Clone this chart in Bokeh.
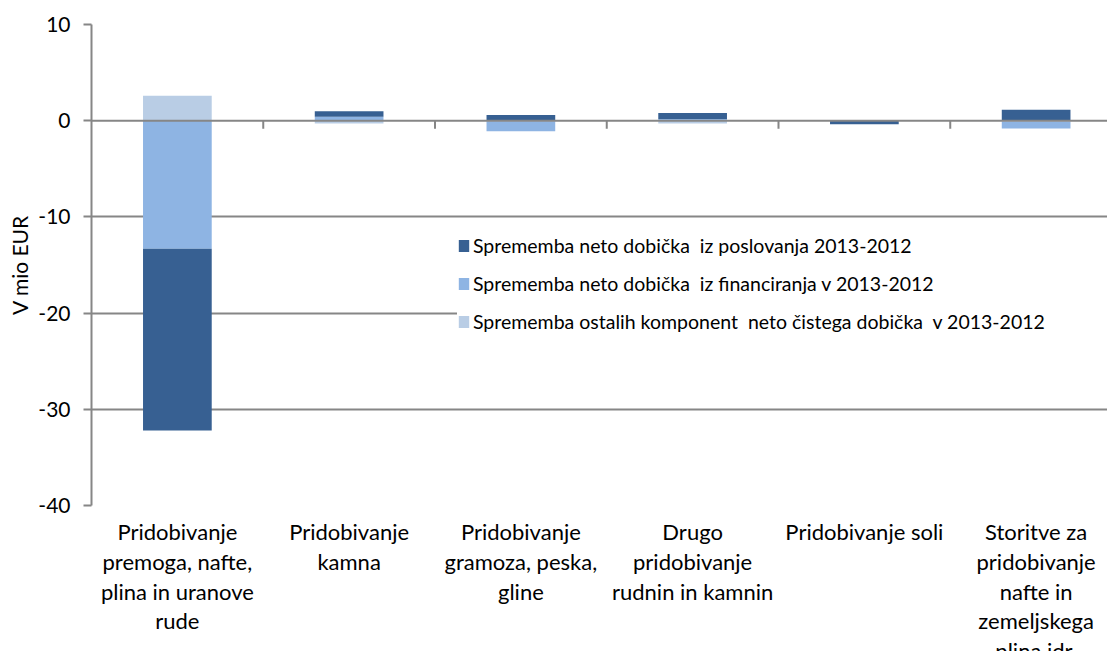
import numpy as np
from bokeh.plotting import figure
from bokeh.layouts import column
from bokeh.models import (ColumnDataSource, Span, FixedTicker,
                          Range1d, Legend, LegendItem)
from bokeh.core.properties import value
from bokeh.embed import file_html
from bokeh.resources import INLINE

# ---- data ----
categories = [
    "Pridobivanje\npremoga, nafte,\nplina in uranove\nrude",
    "Pridobivanje\nkamna",
    "Pridobivanje\ngramoza, peska,\ngline",
    "Drugo\npridobivanje\nrudnin in kamnin",
    "Pridobivanje soli",
    "Storitve za\npridobivanje\nnafte in\nzemeljskega\nplina idr.",
]
series_names = [
    "Sprememba neto dobička  iz poslovanja 2013-2012",
    "Sprememba neto dobička  iz financiranja v 2013-2012",
    "Sprememba ostalih komponent  neto čistega dobička  v 2013-2012",
]
operating = [-18.9, 0.55, 0.60, 0.62, -0.33, 1.14]
financing = [-13.3, 0.42, -1.05, 0.18, -0.03, -0.70]
other = [2.6, -0.30, -0.05, -0.30, 0.0, -0.10]
y_ticks = [10, 0, -10, -20, -30, -40]
y_tick_labels = ["10", "0", "-10", "-20", "-30", "-40"]

colors = ["#376092", "#8EB4E3", "#B9CDE5"]
FONT = "Lato"
LEG_FS = "19.5px"
AX_FS = "21px"
CAT_FS = "22px"
TXT = "#000000"
GRID = "#868686"

n = len(categories)
x = [float(i) + 0.5 for i in range(n)]

# stacking order nearest the axis: other, financing, operating
stack_order = [other, financing, operating]
pos = np.zeros(n)
neg = np.zeros(n)
bottoms, tops = [], []
for vals in stack_order:
    v = np.array(vals, dtype=float)
    b = np.where(v >= 0, pos, neg)
    t = b + v
    pos = np.where(v >= 0, t, pos)
    neg = np.where(v < 0, t, neg)
    bottoms.append(b)
    tops.append(t)

W = 1107
frame_left, frame_top, frame_bottom = 91, 24, 505
bottom_pad = 13
H_MAIN = frame_bottom + bottom_pad
H_LAB = 651 - H_MAIN
cat_px = 171.75
frame_w = W - frame_left
px_per_unit = (frame_bottom - frame_top) / 50.0

xr = Range1d(0, frame_w / cat_px)
p = figure(width=W, height=H_MAIN, output_backend="svg", toolbar_location=None,
           x_range=xr, y_range=Range1d(-40, 10), x_axis_type=None,
           min_border_left=frame_left, min_border_top=frame_top,
           min_border_right=0, min_border_bottom=bottom_pad,
           background_fill_color="white", border_fill_color="white")
p.outline_line_color = None

# horizontal grid
p.ygrid.ticker = FixedTicker(ticks=[10, -10, -20, -30])
p.ygrid.grid_line_color = GRID
p.ygrid.grid_line_width = 2

# y axis
p.yaxis.ticker = FixedTicker(ticks=y_ticks)
p.yaxis.major_label_overrides = {t: s for t, s in zip(y_ticks, y_tick_labels)}
p.yaxis.axis_line_color = GRID
p.yaxis.axis_line_width = 2
p.yaxis.major_tick_line_color = GRID
p.yaxis.major_tick_line_width = 2
p.yaxis.major_tick_out = 8
p.yaxis.major_tick_in = 0
p.yaxis.minor_tick_line_color = None
p.yaxis.major_label_standoff = 13
p.yaxis.major_label_text_font = FONT
p.yaxis.major_label_text_font_size = AX_FS
p.yaxis.major_label_text_color = TXT
p.yaxis.axis_label = "V mio EUR"
p.yaxis.axis_label_text_font = FONT
p.yaxis.axis_label_text_font_size = AX_FS
p.yaxis.axis_label_text_font_style = "normal"
p.yaxis.axis_label_text_color = TXT
p.yaxis.axis_label_standoff = 3

# bars
renderers = []
for i, (b, t) in enumerate(zip(bottoms, tops)):
    src = ColumnDataSource(dict(x=x, bottom=b, top=t))
    r = p.vbar(x="x", width=0.4, bottom="bottom", top="top", source=src,
               fill_color=colors[2 - i], line_color=None)
    renderers.append(r)
# renderers: [other, financing, operating]

# zero axis line and category tick marks
p.add_layout(Span(location=0, dimension="width", line_color=GRID, line_width=2))
bx = np.arange(1, n)
p.segment(x0=bx, x1=bx, y0=np.zeros(len(bx)), y1=np.full(len(bx), -8 / px_per_unit),
          line_color=GRID, line_width=2)

# legend
legend = Legend(items=[
    LegendItem(label=series_names[0], renderers=[renderers[2]]),
    LegendItem(label=series_names[1], renderers=[renderers[1]]),
    LegendItem(label=series_names[2], renderers=[renderers[0]]),
], location=(366, 172))
legend.label_text_font = FONT
legend.label_text_font_size = LEG_FS
legend.label_text_color = TXT
legend.glyph_width = 13
legend.glyph_height = 15
legend.label_height = 20
legend.spacing = 15
legend.padding = 8
legend.margin = 0
legend.label_standoff = 3
legend.label_width = 650
legend.border_line_color = None
legend.background_fill_color = "white"
legend.background_fill_alpha = 1.0
p.add_layout(legend)

# category labels in a strip under the plot sharing the x scale
lab = figure(width=W, height=H_LAB, output_backend="svg", toolbar_location=None,
             x_range=xr, y_range=Range1d(H_LAB, 0),
             x_axis_type=None, y_axis_type=None,
             min_border_left=frame_left, min_border_top=0,
             min_border_right=0, min_border_bottom=0,
             background_fill_color="white", border_fill_color="white")
lab.outline_line_color = None
lab.xgrid.visible = False
lab.ygrid.visible = False

first_px, pitch_px = 26 - bottom_pad, 29.75
lx, ly, lt = [], [], []
for xi, c in zip(x, categories):
    for k, line in enumerate(c.split("\n")):
        lx.append(xi)
        ly.append(first_px + k * pitch_px)
        lt.append(line)
lab.text(x=lx, y=ly, text=lt, text_align="center", text_baseline="middle",
         text_font=value(FONT), text_font_size=CAT_FS, text_color=TXT)

layout = column(p, lab, spacing=0)
open("out.html", "w").write(file_html(layout, INLINE))
